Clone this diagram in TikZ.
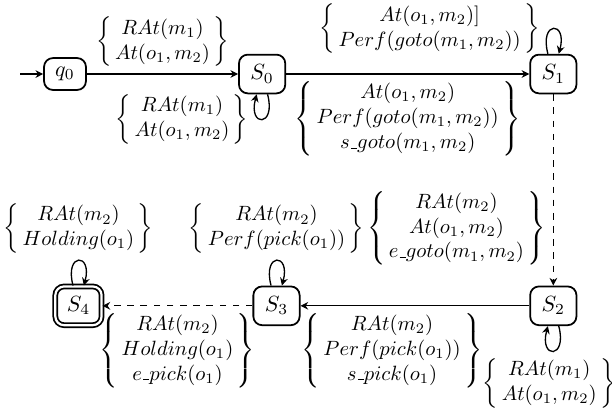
\documentclass[tikz,border=0pt]{standalone}
\usetikzlibrary{arrows.meta, positioning}

\newcommand{\condset}[1]{$\left\{\begin{array}{@{\,}c@{\,}}#1\end{array}\right\}$}
\newcommand{\ubar}{\mbox{\kern.06em\vbox{\hrule width .3em}}}

\begin{document}
\begin{tikzpicture}[
    node distance=2.4cm,
    state/.style={rectangle, draw, thick, rounded corners=4pt, minimum width=0.74cm, minimum height=0.62cm, inner sep=1pt},
    init/.style={state, minimum width=0.67cm, minimum height=0.51cm},
    final/.style={state, double, double distance=1pt},
    arrow/.style={-{Stealth[length=3.5pt,width=3.5pt]}, semithick},
    cond/.style={scale=0.94},
    every loop/.style={min distance=5.5mm}
]
    \useasboundingbox (-1.04,-5.42) rectangle (8.75,1.184);

    \node[init] (q0) at (0,0) {$q_0$};
    \node[state, right=2.42cm of q0] (S0) {$S_0$};
    \node[state, right=3.89cm of S0] (S1) {$S_1$};
    \node[state, below=3.06cm of S1] (S2) {$S_2$};
    \node[state, left=3.66cm of S2] (S3) {$S_3$};
    \node[final, left=2.4cm of S3] (S4) {$S_4$};
    \coordinate[left=0.37cm of q0] (start);

    \draw[arrow] (start) -- (q0);
    \draw[arrow] (q0) -- node[cond, above] {\condset{RAt(m_1)\\ At(o_1,m_2)}} (S0);
    \draw[arrow] (S0) to[loop below] node[cond, left, xshift=-3pt] {\condset{RAt(m_1)\\ At(o_1,m_2)}} (S0);
    \draw[arrow] (S0) -- node[cond, below] {\condset{At(o_1,m_2)\\ Perf(goto(m_1,m_2))\\ s\ubar goto(m_1,m_2)}} (S1);
    \draw[arrow] (S1) to[loop above] node[cond, left, xshift=-3pt] {\condset{At(o_1,m_2)]\\ Perf(goto(m_1,m_2))}} (S1);
    \draw[arrow, dashed] (S1) -- node[cond, left, pos=0.7] {\condset{RAt(m_2)\\ At(o_1,m_2)\\ e\ubar goto(m_1,m_2)}} (S2);
    \draw[arrow] (S2) to[loop below] node[cond, below, xshift=-2pt] {\condset{RAt(m_1)\\ At(o_1,m_2)}} (S2);
    \draw[arrow] (S2) -- node[cond, below, pos=0.6] {\condset{RAt(m_2)\\ Perf(pick(o_1))\\ s\ubar pick(o_1)}} (S3);
    \draw[arrow] (S3) to[loop above] node[cond, above] {\condset{RAt(m_2)\\ Perf(pick(o_1))}} (S3);
    \draw[arrow, dashed] (S3) -- node[cond, below] {\condset{RAt(m_2)\\ Holding(o_1)\\ e\ubar pick(o_1)}} (S4);
    \draw[arrow] (S4) to[loop above] node[cond, above] {\condset{RAt(m_2)\\ Holding(o_1)}} (S4);
\end{tikzpicture}
\end{document}
